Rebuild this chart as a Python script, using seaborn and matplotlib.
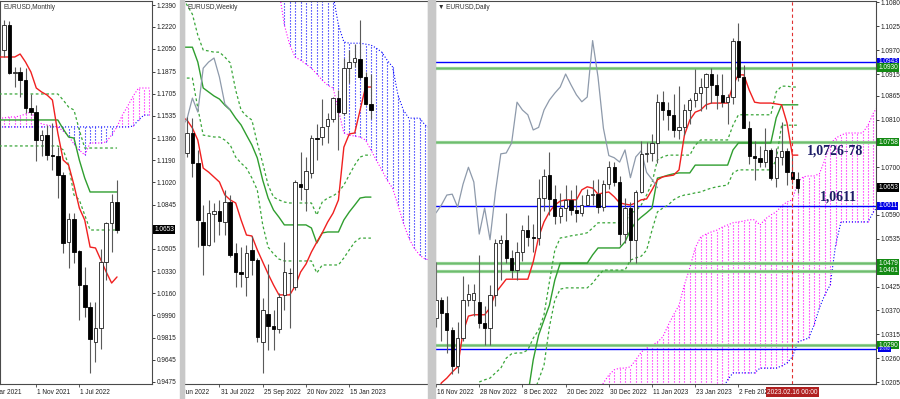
import numpy as np
import matplotlib
matplotlib.use("Agg")
import matplotlib.pyplot as plt
from matplotlib import font_manager
from matplotlib.patches import Rectangle
import seaborn as sns

# ---------------- Monthly (May 2021 .. Feb 2023) ----------------
m_open = [1.2042, 1.2235, 1.1864, 1.1875, 1.1810, 1.1594, 1.1563, 1.1346, 1.1385, 1.1230,
          1.1222, 1.1075, 1.0557, 1.0735, 1.0488, 1.0225, 1.0054, 0.9783, 0.9892, 1.0403,
          1.0704, 1.0866]
m_high = [1.2274, 1.2266, 1.1911, 1.1911, 1.1903, 1.1702, 1.1617, 1.1423, 1.1462, 1.1480,
          1.1290, 1.1100, 1.0782, 1.0782, 1.0496, 1.0364, 1.0093, 1.0093, 1.0503, 1.0712,
          1.0929, 1.1037]
m_low = [1.1988, 1.1856, 1.1756, 1.1679, 1.1555, 1.1540, 1.1186, 1.1222, 1.1191, 1.1114,
         1.0900, 1.0472, 1.0356, 1.0395, 0.9954, 0.9977, 0.9544, 0.9629, 0.9728, 1.0263,
         1.0483, 1.0626]
m_close = [1.2235, 1.1864, 1.1875, 1.1810, 1.1594, 1.1563, 1.1346, 1.1385, 1.1230, 1.1222,
           1.1075, 1.0549, 1.0735, 1.0480, 1.0225, 1.0054, 0.9807, 0.9892, 1.0403, 1.0704,
           1.0866, 1.0653]
# lines from bar -1 .. 21
m_tenkan = [1.1988, 1.1988, 1.1988, 1.1988, 1.2011, 1.1949, 1.1872, 1.1748, 1.1717, 1.1694,
            1.1655, 1.1400, 1.1191, 1.1153, 1.0998, 1.0820, 1.0727, 1.0518, 1.0511, 1.0418,
            1.0325, 1.0240, 1.0287]
m_kijun = [1.1501, 1.1501, 1.1501, 1.1501, 1.1501, 1.1501, 1.1501, 1.1501, 1.1501, 1.1501,
           1.1501, 1.1501, 1.1431, 1.1369, 1.1361, 1.1191, 1.1052, 1.0944, 1.0944, 1.0944,
           1.0944, 1.0944, 1.0944]
m_dash1 = [1.1702, 1.1702, 1.1702, 1.1702, 1.1702, 1.1702, 1.1702, 1.1702, 1.1702, 1.1702,
           1.1702, 1.1702, 1.1655, 1.1601, 1.1578, 1.1423, 1.1284, 1.1284, 1.1284, 1.1284,
           1.1284, 1.1284, 1.1284]
m_dash2 = [1.1300, 1.1300, 1.1300, 1.1300, 1.1300, 1.1300, 1.1300, 1.1300, 1.1300, 1.1300,
           1.1300, 1.1300, 1.1269, 1.1153, 1.0921, 1.0882, 1.0766, 1.0650, 1.0650, 1.0650,
           1.0650, 1.0650, 1.0650]
# cloud from bar -1 .. 27
m_spanA = [1.1516, 1.1516, 1.1524, 1.1524, 1.1532, 1.1547, 1.1563, 1.1501, 1.1470, 1.1462,
           1.1454, 1.1447, 1.1416, 1.1377, 1.1315, 1.1269, 1.1230, 1.1323, 1.1323, 1.1323,
           1.1331, 1.1385, 1.1447, 1.1539, 1.1609, 1.1686, 1.1748, 1.1748, 1.1748]
m_spanB = [1.1447, 1.1447, 1.1447, 1.1447, 1.1447, 1.1447, 1.1447, 1.1447, 1.1447, 1.1447,
           1.1447, 1.1447, 1.1447, 1.1447, 1.1447, 1.1447, 1.1447, 1.1447, 1.1447, 1.1447,
           1.1447, 1.1447, 1.1447, 1.1447, 1.1447, 1.1454, 1.1501, 1.1539, 1.1539]
m_ticks = [1.2390, 1.2220, 1.2050, 1.1875, 1.1705, 1.1535, 1.1360, 1.1190, 1.1020, 1.0845,
           1.0505, 1.0330, 1.0160, 0.9990, 0.9815, 0.9645, 0.9475]
m_date_pos = [-2, 6, 14]
m_date_txt = ["Mar 2021", "1 Nov 2021", "1 Jul 2022"]

# ---------------- Weekly (19 Jun 2022 .. 12 Feb 2023) ----------------
w_open = [1.0469, 1.0554, 1.0426, 1.0176, 1.0079, 1.0210, 1.0223, 1.0176, 1.0261, 1.0045,
          0.9964, 0.9943, 1.0058, 1.0015, 0.9667, 0.9786, 0.9735, 0.9723, 0.9867, 0.9960,
          0.9901, 1.0337, 1.0316, 1.0384, 1.0532, 1.0537, 1.0583, 1.0613, 1.0702, 1.0639,
          1.0829, 1.0855, 1.0868, 1.0791, 1.0677]
w_high = [1.0622, 1.0617, 1.0482, 1.0248, 1.0270, 1.0257, 1.0270, 1.0312, 1.0291, 1.0087,
          1.0070, 1.0079, 1.0117, 1.0024, 0.9853, 0.9999, 0.9803, 0.9875, 1.0091, 0.9981,
          1.0354, 1.0473, 1.0452, 1.0545, 1.0592, 1.0700, 1.0639, 1.0706, 1.0736, 1.0872,
          1.0906, 1.0931, 1.1033, 1.0812, 1.0804]
w_low = [1.0452, 1.0367, 1.0070, 0.9952, 1.0075, 1.0091, 1.0121, 1.0121, 1.0028, 0.9901,
         0.9901, 0.9862, 0.9952, 0.9667, 0.9536, 0.9633, 0.9633, 0.9706, 0.9803, 0.9727,
         0.9888, 1.0270, 1.0223, 1.0363, 1.0439, 1.0503, 1.0511, 1.0600, 1.0482, 1.0630,
         1.0766, 1.0834, 1.0783, 1.0672, 1.0613]
w_close = [1.0554, 1.0426, 1.0185, 1.0079, 1.0214, 1.0223, 1.0181, 1.0261, 1.0036, 0.9964,
           0.9956, 1.0045, 1.0015, 0.9689, 0.9803, 0.9735, 0.9723, 0.9858, 0.9964, 0.9958,
           1.0346, 1.0325, 1.0393, 1.0532, 1.0528, 1.0579, 1.0613, 1.0702, 1.0643, 1.0829,
           1.0855, 1.0872, 1.0791, 1.0677, 1.0653]
# lines from bar -1 .. 34
w_tenkan = [1.0622, 1.0609, 1.0575, 1.0524, 1.0405, 1.0388, 1.0367, 1.0346, 1.0291, 1.0270,
            1.0257, 1.0185, 1.0121, 1.0117, 1.0058, 1.0007, 0.9956, 0.9909, 0.9867, 0.9867,
            0.9867, 0.9905, 0.9964, 0.9998, 1.0049, 1.0091, 1.0130, 1.0176, 1.0214, 1.0270,
            1.0494, 1.0550, 1.0554, 1.0651, 1.0749, 1.0749]
w_kijun = [1.0918, 1.0918, 1.0918, 1.0855, 1.0745, 1.0728, 1.0711, 1.0698, 1.0672, 1.0651,
           1.0617, 1.0588, 1.0545, 1.0503, 1.0448, 1.0354, 1.0278, 1.0227, 1.0197, 1.0164,
           1.0164, 1.0164, 1.0164, 1.0164, 1.0151, 1.0087, 1.0130, 1.0134, 1.0134, 1.0134,
           1.0185, 1.0219, 1.0248, 1.0278, 1.0282, 1.0282]
w_dashU = [1.1139, 1.1097, 1.1058, 1.0969, 1.0906, 1.0902, 1.0897, 1.0897, 1.0876, 1.0851,
           1.0736, 1.0651, 1.0626, 1.0609, 1.0511, 1.0426, 1.0333, 1.0282, 1.0270, 1.0261,
           1.0257, 1.0257, 1.0257, 1.0257, 1.0257, 1.0206, 1.0261, 1.0278, 1.0287, 1.0303,
           1.0333, 1.0376, 1.0418, 1.0452, 1.0460, 1.0460]
w_dashL = [1.0787, 1.0787, 1.0787, 1.0660, 1.0545, 1.0541, 1.0537, 1.0537, 1.0524, 1.0503,
           1.0452, 1.0426, 1.0405, 1.0363, 1.0312, 1.0164, 1.0070, 1.0041, 1.0019, 1.0011,
           1.0011, 1.0011, 1.0011, 1.0011, 1.0011, 0.9960, 0.9994, 0.9994, 0.9994, 0.9994,
           1.0024, 1.0058, 1.0091, 1.0108, 1.0108, 1.0108]
# cloud from bar 17 .. 45
w_spanA = [1.1160, 1.1012, 1.0927, 1.0876, 1.0863, 1.0846, 1.0829, 1.0804, 1.0778, 1.0757,
           1.0745, 1.0651, 1.0554, 1.0545, 1.0541, 1.0537, 1.0524, 1.0482, 1.0439, 1.0397,
           1.0354, 1.0320, 1.0248, 1.0172, 1.0108, 1.0066, 1.0036, 1.0019, 1.0015]
w_spanB = [1.1203, 1.1203, 1.1203, 1.1203, 1.1203, 1.1203, 1.1203, 1.1203, 1.1203, 1.1203,
           1.1139, 1.1012, 1.0940, 1.0935, 1.0935, 1.0935, 1.0931, 1.0927, 1.0914, 1.0897,
           1.0863, 1.0834, 1.0715, 1.0651, 1.0617, 1.0617, 1.0617, 1.0588, 1.0575]
w_date_pos = [-2, 6, 14, 22, 30]
w_date_txt = ["5 Jun 2022", "31 Jul 2022", "25 Sep 2022", "20 Nov 2022", "15 Jan 2023"]

# ---------------- Daily (16 Nov 2022 .. 17 Feb 2023) ----------------
d_open = [1.0352, 1.0394, 1.0364, 1.0325, 1.0242, 1.0306, 1.0395, 1.0395, 1.0389, 1.0341,
          1.0329, 1.0405, 1.0525, 1.0532, 1.0491, 1.0463, 1.0505, 1.0555, 1.0539, 1.0536,
          1.0630, 1.0682, 1.0627, 1.0587, 1.0606, 1.0625, 1.0602, 1.0595, 1.0613, 1.0636,
          1.0638, 1.0608, 1.0661, 1.0700, 1.0666, 1.0546, 1.0606, 1.0533, 1.0643, 1.0731,
          1.0733, 1.0756, 1.0850, 1.0832, 1.0821, 1.0786, 1.0792, 1.0832, 1.0855, 1.0871,
          1.0885, 1.0915, 1.0890, 1.0867, 1.0851, 1.0862, 1.0992, 1.0908, 1.0790, 1.0727,
          1.0722, 1.0712, 1.0740, 1.0676, 1.0724, 1.0738, 1.0688, 1.0672]
d_high = [1.0481, 1.0400, 1.0404, 1.0332, 1.0343, 1.0449, 1.0430, 1.0431, 1.0497, 1.0380,
          1.0429, 1.0534, 1.0545, 1.0595, 1.0510, 1.0528, 1.0566, 1.0590, 1.0570, 1.0674,
          1.0695, 1.0735, 1.0660, 1.0640, 1.0658, 1.0647, 1.0658, 1.0637, 1.0650, 1.0670,
          1.0673, 1.0670, 1.0714, 1.0712, 1.0680, 1.0630, 1.0620, 1.0647, 1.0760, 1.0758,
          1.0776, 1.0868, 1.0875, 1.0850, 1.0870, 1.0887, 1.0845, 1.0860, 1.0927, 1.0905,
          1.0918, 1.0929, 1.0915, 1.0915, 1.0868, 1.0999, 1.1033, 1.0935, 1.0806, 1.0760,
          1.0748, 1.0790, 1.0745, 1.0745, 1.0805, 1.0745, 1.0725, 1.0690]
d_low = [1.0332, 1.0300, 1.0272, 1.0223, 1.0226, 1.0300, 1.0380, 1.0358, 1.0330, 1.0290,
         1.0290, 1.0380, 1.0440, 1.0480, 1.0444, 1.0441, 1.0485, 1.0518, 1.0505, 1.0520,
         1.0600, 1.0590, 1.0570, 1.0572, 1.0575, 1.0590, 1.0574, 1.0588, 1.0612, 1.0612,
         1.0595, 1.0600, 1.0650, 1.0656, 1.0520, 1.0525, 1.0482, 1.0480, 1.0640, 1.0713,
         1.0715, 1.0710, 1.0810, 1.0785, 1.0770, 1.0766, 1.0775, 1.0800, 1.0840, 1.0830,
         1.0835, 1.0848, 1.0835, 1.0838, 1.0800, 1.0845, 1.0900, 1.0790, 1.0708, 1.0670,
         1.0700, 1.0700, 1.0670, 1.0655, 1.0705, 1.0660, 1.0662, 1.0640]
d_close = [1.0394, 1.0364, 1.0325, 1.0242, 1.0306, 1.0395, 1.0408, 1.0411, 1.0341, 1.0329,
           1.0405, 1.0525, 1.0533, 1.0491, 1.0463, 1.0505, 1.0555, 1.0539, 1.0536, 1.0630,
           1.0681, 1.0627, 1.0587, 1.0606, 1.0625, 1.0602, 1.0595, 1.0613, 1.0636, 1.0638,
           1.0608, 1.0661, 1.0700, 1.0666, 1.0546, 1.0606, 1.0533, 1.0643, 1.0731, 1.0733,
           1.0756, 1.0850, 1.0832, 1.0821, 1.0786, 1.0792, 1.0832, 1.0855, 1.0871, 1.0885,
           1.0915, 1.0890, 1.0867, 1.0851, 1.0862, 1.0992, 1.0908, 1.0790, 1.0727, 1.0722,
           1.0712, 1.0740, 1.0676, 1.0724, 1.0738, 1.0688, 1.0672, 1.0653]
d_tenkan = [1.0175, 1.0203, 1.0214, 1.0228, 1.0240, 1.0320, 1.0357, 1.0360, 1.0360, 1.0360,
            1.0376, 1.0410, 1.0426, 1.0442, 1.0442, 1.0442, 1.0442, 1.0442, 1.0482, 1.0539,
            1.0574, 1.0597, 1.0613, 1.0622, 1.0625, 1.0625, 1.0625, 1.0648, 1.0655, 1.0652,
            1.0638, 1.0641, 1.0643, 1.0632, 1.0618, 1.0615, 1.0613, 1.0618, 1.0625, 1.0627,
            1.0648, 1.0671, 1.0678, 1.0680, 1.0682, 1.0694, 1.0774, 1.0809, 1.0827, 1.0832,
            1.0844, 1.0848, 1.0848, 1.0848, 1.0848, 1.0890, 1.0913, 1.0913, 1.0878, 1.0850,
            1.0848, 1.0848, 1.0848, 1.0846, 1.0844, 1.0802, 1.0728, 1.0728]
d_kijun_start = 17
d_kijun = [1.0175, 1.0256, 1.0313, 1.0348, 1.0382, 1.0440, 1.0479, 1.0479, 1.0479, 1.0479,
           1.0479, 1.0479, 1.0498, 1.0514, 1.0514, 1.0514, 1.0514, 1.0514, 1.0528, 1.0555,
           1.0574, 1.0585, 1.0595, 1.0606, 1.0675, 1.0678, 1.0682, 1.0685, 1.0687, 1.0687,
           1.0687, 1.0705, 1.0705, 1.0705, 1.0705, 1.0705, 1.0705, 1.0705, 1.0740, 1.0756,
           1.0756, 1.0756, 1.0756, 1.0756, 1.0756, 1.0756, 1.0814, 1.0844, 1.0844, 1.0844,
           1.0844]
d_dashU_start = 8
d_dashU = [1.0205, 1.0210, 1.0214, 1.0226, 1.0237, 1.0260, 1.0270, 1.0272, 1.0272, 1.0279,
           1.0306, 1.0325, 1.0360, 1.0436, 1.0509, 1.0537, 1.0539, 1.0542, 1.0544, 1.0546,
           1.0549, 1.0560, 1.0572, 1.0572, 1.0572, 1.0572, 1.0572, 1.0572, 1.0595, 1.0599,
           1.0613, 1.0636, 1.0664, 1.0717, 1.0724, 1.0728, 1.0728, 1.0728, 1.0728, 1.0728,
           1.0751, 1.0763, 1.0763, 1.0763, 1.0763, 1.0763, 1.0763, 1.0797, 1.0821, 1.0821,
           1.0821, 1.0821, 1.0821, 1.0821, 1.0821, 1.0874, 1.0887, 1.0887, 1.0885, 1.0885]
d_dashL_start = 18
d_dashL = [1.0175, 1.0210, 1.0244, 1.0332, 1.0394, 1.0419, 1.0422, 1.0422, 1.0422, 1.0422,
           1.0422, 1.0433, 1.0449, 1.0463, 1.0463, 1.0463, 1.0463, 1.0463, 1.0486, 1.0491,
           1.0495, 1.0509, 1.0555, 1.0597, 1.0606, 1.0613, 1.0625, 1.0632, 1.0636, 1.0638,
           1.0641, 1.0643, 1.0648, 1.0652, 1.0655, 1.0657, 1.0659, 1.0687, 1.0694, 1.0694,
           1.0694, 1.0694, 1.0694, 1.0694, 1.0694, 1.0717, 1.0797, 1.0797, 1.0797, 1.0797]
d_cloud_start = 30
d_spanA = [1.0175, 1.0203, 1.0221, 1.0233, 1.0237, 1.0237, 1.0240, 1.0256, 1.0274, 1.0283,
           1.0290, 1.0297, 1.0309, 1.0336, 1.0360, 1.0382, 1.0429, 1.0468, 1.0514, 1.0539,
           1.0546, 1.0551, 1.0555, 1.0562, 1.0567, 1.0572, 1.0574, 1.0576, 1.0579, 1.0579,
           1.0567, 1.0581, 1.0590, 1.0597, 1.0611, 1.0620, 1.0625, 1.0666, 1.0678, 1.0680,
           1.0680, 1.0685, 1.0717, 1.0754, 1.0767, 1.0774, 1.0779, 1.0779, 1.0779, 1.0779,
           1.0797, 1.0825, 1.0844]
d_spanB = [1.0150, 1.0150, 1.0150, 1.0150, 1.0150, 1.0150, 1.0150, 1.0150, 1.0150, 1.0150,
           1.0150, 1.0150, 1.0150, 1.0150, 1.0150, 1.0150, 1.0150, 1.0150, 1.0150, 1.0150,
           1.0150, 1.0150, 1.0175, 1.0187, 1.0210, 1.0226, 1.0226, 1.0226, 1.0226, 1.0226,
           1.0237, 1.0237, 1.0237, 1.0237, 1.0242, 1.0249, 1.0263, 1.0297, 1.0302, 1.0306,
           1.0336, 1.0376, 1.0406, 1.0429, 1.0521, 1.0574, 1.0574, 1.0574, 1.0574, 1.0574,
           1.0574, 1.0597, 1.0613]
d_levels_blue = [1.0943, 1.0611, 1.0282]
d_levels_green = [1.0930, 1.0758, 1.0479, 1.0461, 1.0290]
d_ticks = [1.1080, 1.1025, 1.0970, 1.0915, 1.0865, 1.0810, 1.0700, 1.0590, 1.0535,
           1.0425, 1.0370, 1.0315, 1.0260, 1.0205]
d_date_pos = [0, 8, 16, 24, 32, 40, 48, 56]
d_date_txt = ["16 Nov 2022", "28 Nov 2022", "8 Dec 2022", "20 Dec 2022", "30 Dec 2022",
              "11 Jan 2023", "23 Jan 2023", "2 Feb 2023"]
d_marker_bar = 66
d_marker_txt = "2023.02.16 00:00"
last_price = 1.0653

# ---------------- style ----------------
sns.set_theme(style="white")
_names = {f.name for f in font_manager.fontManager.ttflist}
if "Liberation Sans Narrow" in _names:
    UI_FONT = "Liberation Sans Narrow"
elif "Liberation Sans" in _names:
    UI_FONT = "Liberation Sans"
else:
    UI_FONT = "DejaVu Sans"
plt.rcParams["font.family"] = [UI_FONT, "DejaVu Sans"]

W, H = 900, 399
fig = plt.figure(figsize=(W / 100, H / 100), dpi=100, facecolor="white")


def fit_size(sample, target_px):
    t = fig.text(0, 0, sample, fontsize=10)
    w = t.get_window_extent(renderer=fig.canvas.get_renderer()).width
    t.remove()
    return 10.0 * target_px / w


FS = fit_size("1.0865", 20.0)

RED = "#f02020"
KIJUN = "#2f9e2f"
DASHG = "#3aa63a"
CHIKOU = "#8e9aab"
MAG = "#ff00ff"
BLUE = "#0000ff"
DOT = (0, (1.0, 1.7))
DASH = (0, (2.2, 2.0))


def px_axes(x0, y0, x1, y1):
    return fig.add_axes([x0 / W, 1 - y1 / H, (x1 - x0) / W, (y1 - y0) / H])


def sline(ax, x, y, color, lw=1.0, ls="-", z=3):
    sns.lineplot(x=np.asarray(x, float), y=np.asarray(y, float), ax=ax, color=color,
                 linewidth=lw, linestyle=ls, estimator=None, sort=False, legend=False,
                 zorder=z)


def cloud(ax, start, a, b):
    a = np.asarray(a, float)
    b = np.asarray(b, float)
    x = np.arange(start, start + len(a))
    up = a >= b
    ax.vlines(x[up], b[up], a[up], colors=MAG, linestyles=[DOT], lw=0.8, zorder=1)
    ax.vlines(x[~up], a[~up], b[~up], colors=BLUE, linestyles=[DOT], lw=0.8, zorder=1)
    sline(ax, x, a, MAG, 0.8, DOT, 1)
    sline(ax, x, b, BLUE, 0.8, DOT, 1)


def candles(ax, o, h, l, c, w=0.62):
    o, h, l, c = (np.asarray(v, float) for v in (o, h, l, c))
    x = np.arange(len(o))
    ax.vlines(x, l, h, colors="#5a5a5a", lw=0.8, zorder=4)
    up = c >= o
    ax.bar(x[up], (c - o)[up], w, o[up], color="white", edgecolor="#1e1e1e", lw=0.6, zorder=5)
    ax.bar(x[~up], (c - o)[~up], w, o[~up], color="black", edgecolor="black", lw=0.6, zorder=5)


def panel(x0, x1, xlim, ylim, title):
    ax = px_axes(x0, 1, x1, 384)
    strip = px_axes(x0, 384, x1, 399)
    for a in (ax, strip):
        a.set_xlim(*xlim)
        a.set_facecolor("none")
    ax.set_ylim(*ylim)
    strip.set_ylim(0, 1)
    strip.axis("off")
    ax.set_xticks([])
    for s in ax.spines.values():
        s.set_color("#4a4a4a")
        s.set_linewidth(0.8)
    ax.text(3 / (x1 - x0), 1 - 3 / 383, title, transform=ax.transAxes, ha="left", va="top",
            fontsize=FS, color="#303030", zorder=12)
    return ax, strip


def dates(strip, pos, labels):
    for p, t in zip(pos, labels):
        strip.vlines(p, 0.8, 1.0, colors="#404040", lw=0.6)
        strip.text(p + 0.2, 0.45, t, ha="left", va="center", fontsize=FS,
                   color="#202020", clip_on=True)


def price_axis(ax, ticks):
    ax.yaxis.tick_right()
    ax.set_yticks(ticks)
    ax.set_yticklabels([f"{t:.4f}" for t in ticks])
    ax.tick_params(axis="y", right=True, left=False, length=2.5, width=0.6, pad=1.0,
                   labelsize=FS, colors="#202020")


def plabel(ax, width_px, y, text, bg, size=None):
    ax.text(1.0 + 2.2 / width_px, y, text, transform=ax.get_yaxis_transform(), ha="left",
            va="center", fontsize=size or FS, color="white", clip_on=False, zorder=15,
            bbox=dict(boxstyle="square,pad=0.12", fc=bg, ec="none"))


# separators between windows
fig.patches.append(Rectangle((180 / W, 0), 4 / W, 1, transform=fig.transFigure,
                             color="#c8c8c8", zorder=0))
fig.patches.append(Rectangle((428 / W, 0), 7 / W, 1, transform=fig.transFigure,
                             color="#c8c8c8", zorder=0))

# ---------------- Monthly panel ----------------
axM, stM = panel(0, 152, (-0.74, 27.5), (0.9459, 1.2421), "EURUSD,Monthly")
cloud(axM, -1, m_spanA, m_spanB)
xm = np.arange(-1, 22)
sline(axM, xm, m_dash1, DASHG, 0.9, DASH)
sline(axM, xm, m_dash2, DASHG, 0.9, DASH)
sline(axM, xm, m_kijun, KIJUN, 1.0)
sline(axM, xm, m_tenkan, RED, 1.0)
sline(axM, np.arange(len(m_close)) - 26, m_close, CHIKOU, 0.9)
candles(axM, m_open, m_high, m_low, m_close, 0.68)
axM.set_xlim(-0.74, 27.5)
axM.set_ylim(0.9459, 1.2421)
price_axis(axM, m_ticks)
plabel(axM, 152, last_price, f"{last_price:.4f}", "black")
dates(stM, m_date_pos, m_date_txt)

# ---------------- Weekly panel ----------------
axW, stW = panel(184, 428, (-0.55, 44.55), (0.9489, 1.1114), "EURUSD,Weekly")
cloud(axW, 17, w_spanA, w_spanB)
xw = np.arange(-1, 35)
sline(axW, xw, w_dashU, DASHG, 0.9, DASH)
sline(axW, xw, w_dashL, DASHG, 0.9, DASH)
sline(axW, xw, w_kijun, KIJUN, 1.0)
sline(axW, xw, w_tenkan, RED, 1.0)
sline(axW, np.arange(len(w_close)) - 26, w_close, CHIKOU, 0.9)
candles(axW, w_open, w_high, w_low, w_close, 0.66)
axW.set_xlim(-0.55, 44.55)
axW.set_ylim(0.9489, 1.1114)
axW.set_yticks([])
dates(stW, w_date_pos, w_date_txt)

# ---------------- Daily panel ----------------
axD, stD = panel(435, 876, (-0.19, 81.48), (1.02004, 1.10833), "\u25bc EURUSD,Daily")
cloud(axD, d_cloud_start, d_spanA, d_spanB)
for lv in d_levels_green:
    axD.axhline(lv, color="#8fcf8f", lw=2.3, zorder=2)
    axD.axhline(lv, color="#62b462", lw=0.5, zorder=2)
for lv in d_levels_blue:
    axD.axhline(lv, color=BLUE, lw=1.0, zorder=2)
sline(axD, np.arange(d_dashU_start, d_dashU_start + len(d_dashU)), d_dashU, DASHG, 0.9, DASH)
sline(axD, np.arange(d_dashL_start, d_dashL_start + len(d_dashL)), d_dashL, DASHG, 0.9, DASH)
sline(axD, np.arange(d_kijun_start, d_kijun_start + len(d_kijun)), d_kijun, KIJUN, 1.0)
sline(axD, np.arange(len(d_tenkan)), d_tenkan, RED, 1.0)
sline(axD, np.arange(len(d_close)) - 26, d_close, CHIKOU, 0.9)
candles(axD, d_open, d_high, d_low, d_close, 0.62)
axD.axvline(d_marker_bar, color="#e03030", lw=0.8, ls=(0, (3, 2.5)), zorder=6)
axD.set_xlim(-0.19, 81.48)
axD.set_ylim(1.02004, 1.10833)
price_axis(axD, d_ticks)
for lv in d_levels_blue[:2]:
    plabel(axD, 441, lv, f"{lv:.4f}", "#0000e6")
for lv in d_levels_green:
    plabel(axD, 441, lv, f"{lv:.4f}", "#138a13")
plabel(axD, 441, d_levels_blue[2] - 0.0002, f"{d_levels_blue[2]:.4f}", "#0000e6", FS * 0.6)
plabel(axD, 441, last_price, f"{last_price:.4f}", "black")

serif = ["Liberation Serif", "DejaVu Serif"]
axD.text(73.9, 1.0738, "1,0726-78", ha="center", va="center", fontsize=10,
         fontweight="bold", family=serif, color="#1c1c66", zorder=12)
axD.text(74.6, 1.0631, "1,0611", ha="center", va="center", fontsize=10,
         fontweight="bold", family=serif, color="#1c1c66", zorder=12)

dates(stD, d_date_pos, d_date_txt)
stD.text(d_marker_bar, 0.45, d_marker_txt, ha="center", va="center", fontsize=FS,
         color="white", zorder=10, clip_on=False,
         bbox=dict(boxstyle="square,pad=0.2", fc="#b02020", ec="none"))

fig.savefig("out.png", dpi=100, facecolor="white")
